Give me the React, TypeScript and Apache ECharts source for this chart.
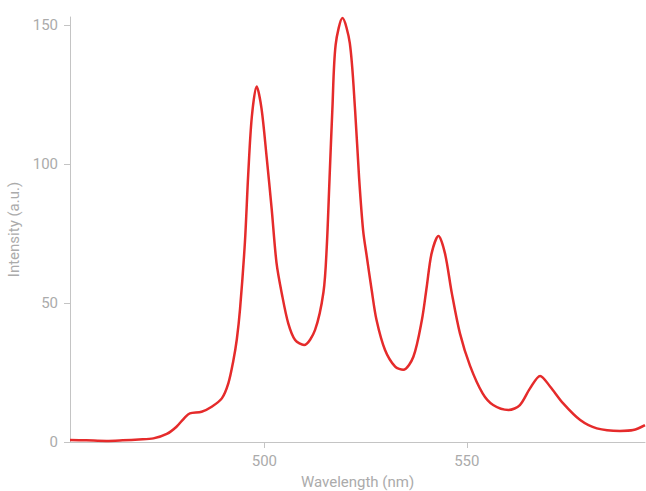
import React, { useEffect, useRef } from "react";
import * as echarts from "echarts";

const wavelengths = [
  452, 456, 461, 465, 469, 472.6, 475.9, 478.3, 480.4, 481.6, 484.5, 487.0, 489.5, 491.1,
  492.3, 493.2, 494.0, 495.2, 496.0, 496.9, 498.1, 499.3, 500.6, 501.8, 503.0, 504.3,
  505.9, 507.6, 509.8, 512.5, 514.6, 515.4, 516.1, 516.8, 517.6, 519.3, 521.1, 522.4,
  523.4, 524.4, 525.3, 526.5, 527.7, 529.8, 532.3, 534.3, 536.8, 538.9, 540.1, 541.3,
  543.0, 544.6, 546.3, 548.3, 550.8, 553.9, 556.5, 560.3, 563.1, 565.6, 568.1, 570.6,
  573.8, 578.0, 582.1, 587.8, 591.1, 594,
];
const intensities = [
  0.7, 0.6, 0.4, 0.6, 0.9, 1.3, 2.9, 5.5, 8.9, 10.3, 10.9, 12.7, 15.7, 21.1,
  29, 37, 48, 72, 96, 117, 128, 120, 102, 84, 64.5, 53.5,
  42.7, 36.7, 34.9, 40.3, 54, 70, 95, 120, 143, 152.6, 143.6, 119.6,
  95, 76, 66.7, 54.7, 43.9, 33.1, 27.1, 26.0, 30.7, 43.9, 55.9, 67.9,
  74.2, 67.9, 53.5, 39.1, 27.4, 17.5, 13.3, 11.5, 13.3, 19.3, 23.8, 19.9,
  13.9, 7.9, 4.9, 4.0, 4.3, 6.1,
];
const xTicks = [500, 550];
const yTicks = [0, 50, 100, 150];

export default function App() {
  const ref = useRef<HTMLDivElement>(null);
  useEffect(() => {
    if (!ref.current) return;
    const chart = echarts.init(ref.current, undefined, { renderer: "svg" });
    const axisColor = "#c4c4c4";
    const textColor = "#ababab";
    const font = "Roboto";
    chart.setOption({
      animation: false,
      grid: { left: 70, right: 1, top: 17, bottom: 49, containLabel: false, outerBoundsMode: "none" },
      xAxis: {
        type: "value",
        min: 452,
        max: 594,
        name: "Wavelength (nm)",
        nameLocation: "middle",
        nameGap: 32,
        nameTextStyle: { color: textColor, fontSize: 15, fontFamily: font },
        axisLine: { show: true, lineStyle: { color: axisColor, width: 1 } },
        axisTick: { show: true, length: 6, lineStyle: { color: axisColor }, customValues: xTicks },
        axisLabel: { color: textColor, fontSize: 15, fontFamily: font, margin: 11, customValues: xTicks },
        splitLine: { show: false },
      },
      yAxis: {
        type: "value",
        min: 0,
        max: 153,
        name: "Intensity (a.u.)",
        nameLocation: "middle",
        nameGap: 39,
        nameTextStyle: { color: textColor, fontSize: 15, fontFamily: font },
        axisLine: { show: true, lineStyle: { color: axisColor, width: 1 } },
        axisTick: { show: true, length: 6, lineStyle: { color: axisColor }, customValues: yTicks },
        axisLabel: {
          color: textColor,
          fontSize: 15,
          fontFamily: font,
          margin: 12,
          padding: [0, 0, 8, 0],
          customValues: yTicks,
        },
        splitLine: { show: false },
      },
      series: [
        {
          type: "line",
          data: wavelengths.map((w, i) => [w, intensities[i]]),
          smooth: 0.3,
          showSymbol: false,
          symbol: "none",
          lineStyle: { color: "#e52b2b", width: 2.5 },
          clip: true,
        },
      ],
    });
    return () => chart.dispose();
  }, []);
  return (
    <div
      ref={ref}
      style={{ position: "fixed", left: 0, top: 0, width: 646, height: 491, background: "#fff" }}
    />
  );
}
